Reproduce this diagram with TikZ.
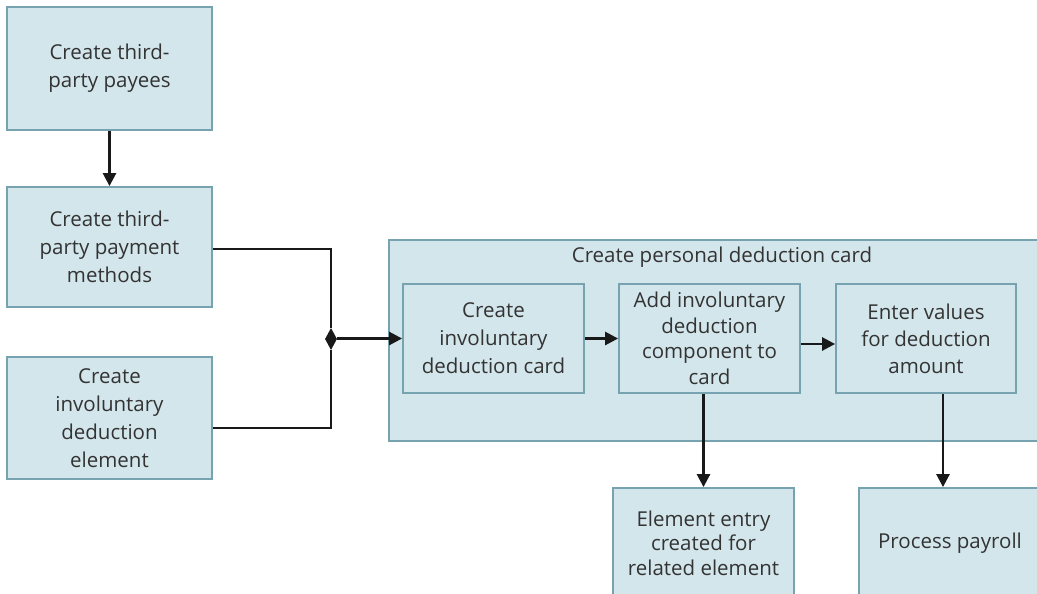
\documentclass[tikz,border=0pt]{standalone}
\usepackage{fontspec}
\setmainfont{Open Sans}
\usetikzlibrary{arrows.meta,shapes.geometric}
\definecolor{boxfill}{HTML}{D3E6EC}
\definecolor{boxline}{HTML}{77A3B0}
\definecolor{txt}{HTML}{333333}
\begin{document}
\begin{tikzpicture}[x=1pt,y=-1pt,
  box/.style={draw=boxline, fill=boxfill, line width=1.8pt, text=txt, align=center,
    inner sep=0pt, font=\fontsize{20.5}{28}\selectfont},
  label/.style={text=txt, inner sep=0pt, font=\fontsize{20.5}{28}\selectfont},
  flow/.style={line width=2.6pt, draw=black!90, -{Triangle[length=13pt,width=13pt]}},
  wire/.style={line width=2.6pt, draw=black!90}]
\clip (0,0) rectangle (1037,594);
\fill[white] (0,0) rectangle (1037,594);

% left column of set-up tasks
\node[box, minimum width=205, minimum height=123] (payees) at (109.5,68.5)
  {Create third-\\party payees};
\node[box, minimum width=205, minimum height=120] (methods) at (109.5,247)
  {Create third-\\party payment\\methods};
\node[box, minimum width=205, minimum height=122] (element) at (109.5,418)
  {Create\\involuntary\\deduction\\element};

% personal deduction card group
\node[box, minimum width=656, minimum height=201] (card) at (717,340.5) {};
\node[label] (cardtitle) at (722,257) {Create personal deduction card};
\node[box, minimum width=181, minimum height=109] (idc) at (493.5,338.5)
  {Create\\involuntary\\deduction card};
\node[box, minimum width=181, minimum height=109,
  font=\fontsize{20.5}{25.5}\selectfont] (comp) at (709.5,338.5)
  {Add involuntary\\deduction\\component to\\card};
\node[box, minimum width=180, minimum height=109,
  font=\fontsize{20.5}{27}\selectfont] (values) at (926,338.5)
  {Enter values\\for deduction\\amount};

% results
\node[box, minimum width=181, minimum height=110,
  font=\fontsize{20.5}{24.5}\selectfont] (entry) at (703.5,543)
  {Element entry\\created for\\related element};
\node[box, minimum width=182, minimum height=110] (payroll) at (950,543)
  {Process payroll};

% junction
\node[diamond, fill=black!90, minimum width=12, minimum height=22, inner sep=0pt,
  aspect=0.55] (junc) at (331,339) {};

% connectors
\draw[flow] (payees) -- (methods);
\draw[wire] ([yshift=-2pt]methods.east) -| (junc.north);
\draw[wire] ([yshift=-10pt]element.east) -| (junc.south);
\draw[flow] (junc.east |- idc.west) -- (idc.west);
\draw[flow] (idc.east) -- (comp.west);
\draw[flow] ([yshift=-5.5pt]comp.east) -- ([yshift=-5.5pt]comp.east -| values.west);
\draw[flow] (entry.north |- comp.south) -- (entry.north);
\draw[flow] ([xshift=17pt]values.south) -- ([xshift=17pt]values.south |- payroll.north);
\end{tikzpicture}
\end{document}
